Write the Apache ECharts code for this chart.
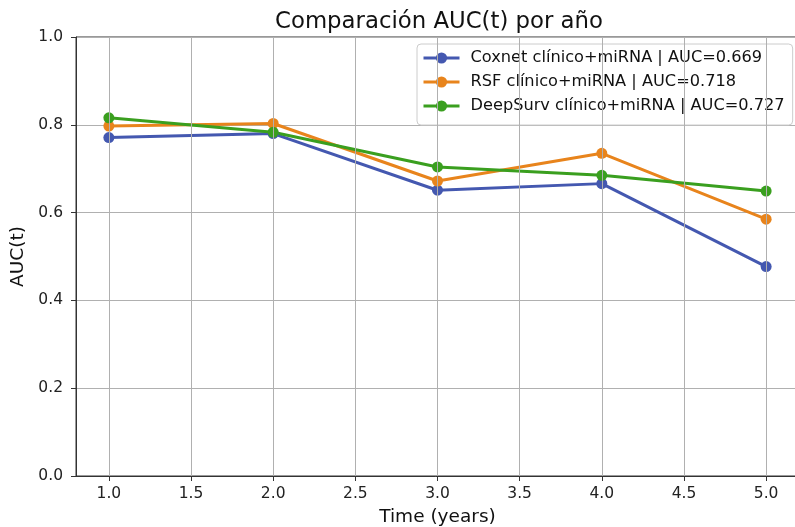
<!DOCTYPE html>
<html>
<head>
<meta charset="utf-8">
<script src="https://cdn.jsdelivr.net/npm/echarts@6/dist/echarts.min.js"></script>
<style>
  html, body { margin: 0; padding: 0; background: #fff; }
  #chart { width: 795px; height: 527px; }
</style>
</head>
<body>
<div id="chart"></div>
<script>
// Evaluation times (years)
const years = [1, 2, 3, 4, 5];

// Time-dependent AUC per model
const coxnetAUC   = [0.771, 0.780, 0.651, 0.666, 0.477];
const rsfAUC      = [0.797, 0.803, 0.672, 0.735, 0.585];
const deepsurvAUC = [0.816, 0.783, 0.704, 0.685, 0.649];

const seriesNames = [
  'Coxnet clínico+miRNA | AUC=0.669',
  'RSF clínico+miRNA | AUC=0.718',
  'DeepSurv clínico+miRNA | AUC=0.727'
];
const seriesColors = ['#4458b0', '#e8841c', '#3a9f1f'];

// Axis tick labels
const xTicks = [1.0, 1.5, 2.0, 2.5, 3.0, 3.5, 4.0, 4.5, 5.0];
const yTicks = [0.0, 0.2, 0.4, 0.6, 0.8, 1.0];

const font = 'DejaVu Sans';
const allValues = [coxnetAUC, rsfAUC, deepsurvAUC];

const chart = echarts.init(document.getElementById('chart'), null, { renderer: 'canvas' });

const dataSeries = allValues.map((vals, i) => ({
  name: seriesNames[i],
  type: 'line',
  data: years.map((x, j) => [x, vals[j]]),
  symbol: 'circle',
  symbolSize: 11,
  showSymbol: true,
  z: 3,
  lineStyle: { width: 3, color: seriesColors[i] },
  itemStyle: { color: seriesColors[i] },
  emphasis: { disabled: true },
  animation: false
}));

// Vertical grid lines at the x tick positions
const gridSeries = {
  type: 'line',
  data: [],
  z: 1,
  silent: true,
  animation: false,
  markLine: {
    symbol: 'none',
    silent: true,
    animation: false,
    label: { show: false },
    lineStyle: { color: '#b0b0b0', width: 1, type: 'solid' },
    data: xTicks.map(v => ({ xAxis: v }))
  }
};

chart.setOption({
  backgroundColor: '#ffffff',
  animation: false,
  title: {
    text: 'Comparación AUC(t) por año',
    left: 434,
    textAlign: 'center',
    top: 6,
    textStyle: { fontFamily: font, fontSize: 22.8, fontWeight: 'normal', color: '#111' }
  },
  grid: {
    left: 76, top: 37, width: 723, height: 439,
    show: true, borderColor: '#333', borderWidth: 1,
    containLabel: false,
    outerBoundsMode: 'none'
  },
  legend: {
    orient: 'vertical',
    left: 417, top: 44,
    padding: [6, 8, 11, 5],
    itemWidth: 36,
    itemHeight: 14,
    itemGap: 8,
    borderColor: '#cccccc',
    borderWidth: 1,
    borderRadius: 4,
    backgroundColor: 'rgba(255,255,255,0.85)',
    data: seriesNames,
    itemStyle: { borderWidth: 0 },
    lineStyle: { width: 3 },
    textStyle: { fontFamily: font, fontSize: 16.2, color: '#111', padding: [0, 0, 0, 6] }
  },
  xAxis: {
    type: 'value',
    min: 0.8, max: 5.2,
    name: 'Time (years)',
    nameLocation: 'middle',
    nameGap: 32,
    nameTextStyle: { fontFamily: font, fontSize: 18.5, color: '#111' },
    axisLine: { show: true, lineStyle: { color: '#333', width: 1 } },
    axisTick: { show: true, length: 5, customValues: xTicks, lineStyle: { color: '#333', width: 1 } },
    axisLabel: {
      customValues: xTicks,
      fontFamily: font, fontSize: 15.5, color: '#222', margin: 10,
      formatter: v => v.toFixed(1)
    },
    splitLine: { show: false }
  },
  yAxis: {
    type: 'value',
    min: 0, max: 1, interval: 0.2,
    name: 'AUC(t)',
    nameLocation: 'middle',
    nameGap: 45,
    nameTextStyle: { fontFamily: font, fontSize: 18.5, color: '#111' },
    axisLine: { show: true, lineStyle: { color: '#333', width: 1 } },
    axisTick: { show: true, length: 5, lineStyle: { color: '#333', width: 1 } },
    axisLabel: {
      fontFamily: font, fontSize: 15.5, color: '#222', margin: 13,
      formatter: v => v.toFixed(1)
    },
    splitLine: { show: true, lineStyle: { color: '#b0b0b0', width: 1 } }
  },
  series: [gridSeries].concat(dataSeries)
});
</script>
</body>
</html>
